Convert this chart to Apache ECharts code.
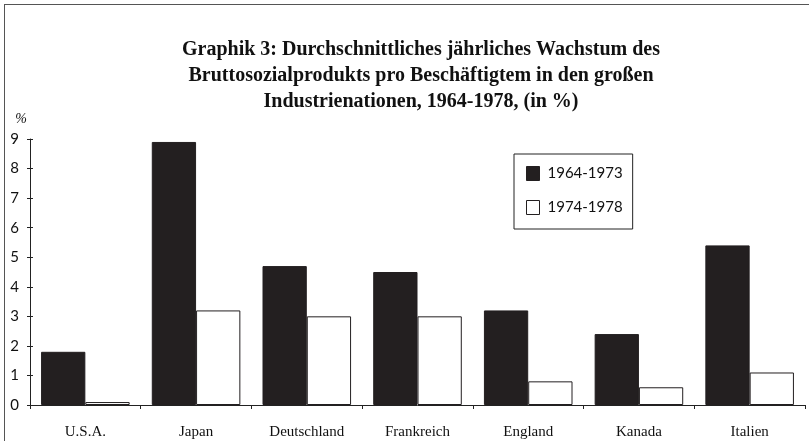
<!DOCTYPE html>
<html>
<head>
<meta charset="utf-8">
<script src="https://cdn.jsdelivr.net/npm/echarts@6/dist/echarts.min.js"></script>
<style>
  html, body { margin: 0; padding: 0; background: #fff; }
  #wrap { position: relative; width: 809px; height: 441px; }
  #chart { width: 809px; height: 441px; }
  #frame { position: absolute; left: 4px; top: 4px; right: 0; bottom: 0; border-top: 1px solid #555; border-left: 1px solid #555; pointer-events: none; }
</style>
</head>
<body>
<div id="wrap">
  <div id="chart"></div>
  <div id="frame"></div>
</div>
<script>
// Länder
var categories = ['U.S.A.', 'Japan', 'Deutschland', 'Frankreich', 'England', 'Kanada', 'Italien']
// 1964-1973
var values6473 = [1.8, 8.9, 4.7, 4.5, 3.2, 2.4, 5.4]
// 1974-1978
var values7478 = [0.1, 3.2, 3.0, 3.0, 0.8, 0.6, 1.1]
var yTicks = [0, 1, 2, 3, 4, 5, 6, 7, 8, 9]

var chart = echarts.init(document.getElementById('chart'))

var serif = '"Liberation Serif", "DejaVu Serif", serif'
var sans = 'Lato, "DejaVu Sans", sans-serif'

var option = {
  animation: false,
  backgroundColor: '#fff',
  title: {
    text: 'Graphik 3: Durchschnittliches jährliches Wachstum des\nBruttosozialprodukts pro Beschäftigtem in den großen\nIndustrienationen, 1964-1978, (in %)',
    left: 416,
    top: 32,
    textAlign: 'center',
    textStyle: {
      fontFamily: serif,
      fontWeight: 'bold',
      fontSize: 20,
      lineHeight: 26,
      color: '#111'
    }
  },
  legend: {
    orient: 'vertical',
    left: 514,
    top: 154,
    padding: [12, 10, 14, 12],
    itemGap: 19,
    itemWidth: 13,
    itemHeight: 14,
    icon: 'rect',
    borderColor: '#222',
    borderWidth: 1,
    borderRadius: 0,
    textStyle: { fontFamily: sans, fontSize: 15, color: '#111', padding: [2, 0, 0, 3] },
    data: [
      { name: '1964-1973', itemStyle: { color: '#231f20', borderColor: '#231f20', borderWidth: 1 } },
      { name: '1974-1978', itemStyle: { color: '#fff', borderColor: '#231f20', borderWidth: 1 } }
    ]
  },
  grid: { left: 30, right: 4, top: 139, bottom: 36 },
  xAxis: {
    type: 'category',
    data: categories,
    boundaryGap: true,
    axisLine: { lineStyle: { color: '#222', width: 1 } },
    axisTick: { show: true, length: 4, lineStyle: { color: '#222' } },
    axisLabel: { fontFamily: serif, fontSize: 15, color: '#111', margin: 20 }
  },
  yAxis: [
    {
      type: 'value',
      min: yTicks[0],
      max: yTicks[yTicks.length - 1],
      interval: 1,
      name: '%',
      nameLocation: 'end',
      nameGap: 13,
      nameTextStyle: { fontFamily: serif, fontStyle: 'italic', fontSize: 14, color: '#111', align: 'right', padding: [0, 3, 0, 0] },
      splitLine: { show: false },
      axisLine: { show: true, lineStyle: { color: '#222' } },
      axisTick: { show: true, length: 3, lineStyle: { color: '#222' } },
      axisLabel: { fontFamily: sans, fontSize: 15, color: '#111', margin: 11 }
    },
    {
      // nur für die nach innen gerichteten Striche
      type: 'value',
      position: 'left',
      min: yTicks[0],
      max: yTicks[yTicks.length - 1],
      interval: 1,
      splitLine: { show: false },
      axisLine: { show: false },
      axisTick: { show: true, inside: true, length: 3, lineStyle: { color: '#222' } },
      axisLabel: { show: false }
    }
  ],
  series: [
    {
      name: '1964-1973',
      type: 'bar',
      data: values6473,
      barGap: '0%',
      barCategoryGap: '20%',
      itemStyle: { color: '#231f20', borderColor: '#231f20', borderWidth: 1 }
    },
    {
      name: '1974-1978',
      type: 'bar',
      data: values7478,
      itemStyle: { color: '#fff', borderColor: '#231f20', borderWidth: 1 }
    }
  ]
}

chart.setOption(option)
</script>
</body>
</html>
